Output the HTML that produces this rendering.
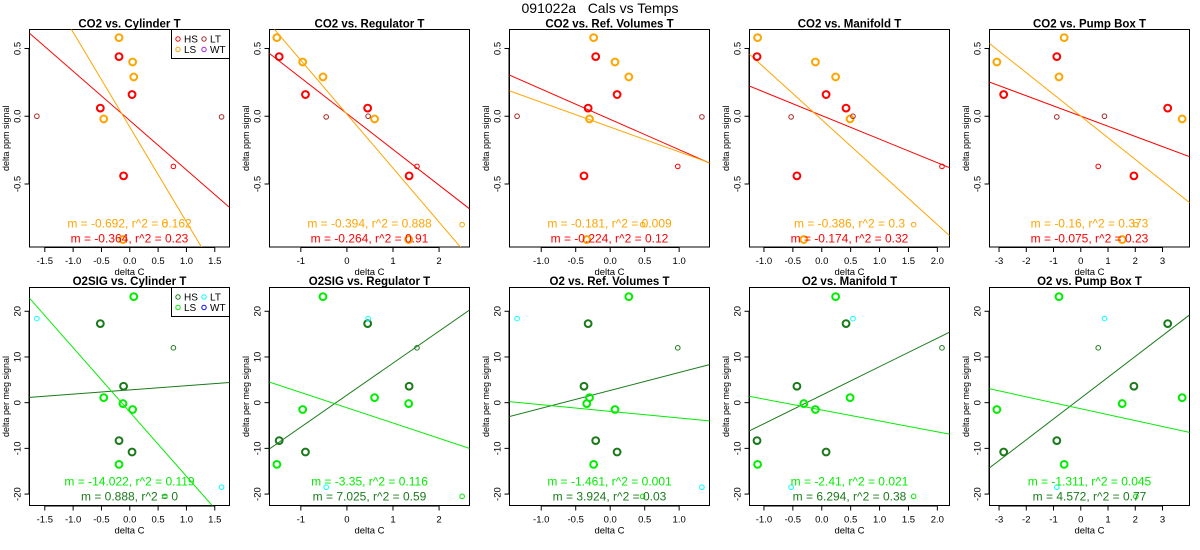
<!DOCTYPE html>
<html><head><meta charset="utf-8"><title>091022a Cals vs Temps</title>
<style>
html,body{margin:0;padding:0;background:#fff;}
svg{display:block;font-family:"Liberation Sans",Arial,sans-serif;}
</style></head>
<body>
<svg id="chart" width="1200" height="550" viewBox="0 0 1200 550" xmlns="http://www.w3.org/2000/svg">
<rect width="1200" height="550" fill="#fff"/>
<text x="600" y="13" text-anchor="middle" font-size="14" fill="#000">091022a&#160;&#160;&#160;Cals vs Temps</text>
</svg>
<script>
// ---- data ----
const topTitles = ["CO2 vs. Cylinder T","CO2 vs. Regulator T","CO2 vs. Ref. Volumes T","CO2 vs. Manifold T","CO2 vs. Pump Box T"];
const botTitles = ["O2SIG vs. Cylinder T","O2SIG vs. Regulator T","O2 vs. Ref. Volumes T","O2 vs. Manifold T","O2 vs. Pump Box T"];
const xRanges = [[-1.77,1.76],[-1.68,2.66],[-1.46,1.44],[-1.25,2.21],[-3.35,3.99]];
const xTicks = [[-1.5,-1,-0.5,0,0.5,1,1.5],[-1,0,1,2],[-1,-0.5,0,0.5,1],[-1,-0.5,0,0.5,1,1.5,2],[-3,-2,-1,0,1,2,3]];
const xTickDecimals = [1,0,1,1,0];
const hsX = [[-0.19,0.04,-0.52,-0.11],[-1.47,-0.90,0.45,1.35],[-0.21,0.10,-0.32,-0.38],[-1.12,0.075,0.42,-0.43],[-0.88,-2.83,3.19,1.95]];
const lsX = [[-0.19,0.05,0.07,-0.46,-0.12],[-1.52,-0.96,-0.52,0.60,1.34],[-0.24,0.07,0.27,-0.30,-0.34],[-1.11,-0.11,0.24,0.49,-0.31],[-0.61,-3.08,-0.80,3.72,1.52]];
const ltX = [[-1.64,1.62],[0.46,-0.45],[-1.35,1.33],[0.54,-0.53],[0.87,-0.88]];
const hsSmallX = [0.77,1.52,0.98,2.08,0.64];
const lsSmallX = [0.62,2.50,0.47,1.59,2.02];
const co2HS = [0.44,0.16,0.06,-0.44];
const co2LS = [0.58,0.40,0.29,-0.02,-0.91];
const co2LT = [0,-0.005];
const co2HSsmall = -0.37;
const co2LSsmall = -0.80;
const o2HS = [-8.3,-10.8,17.3,3.6];
const o2LS = [-13.5,-1.5,23.2,1.1,-0.2];
const o2LT = [18.4,-18.5];
const o2HSsmall = 12;
const o2LSsmall = -20.5;
const co2HSslope = [-0.364,-0.264,-0.224,-0.174,-0.075];
const co2HSint = [-0.032,0.019,-0.023,0.005,0.001];
const co2LSslope = [-0.70,-0.398,-0.183,-0.387,-0.160];
const co2LSint = [-0.08,0.015,-0.080,-0.026,0.001];
const o2HSslope = [0.92,7.0,3.92,6.24,4.56];
const o2HSint = [2.79,1.66,2.68,1.64,1.0];
const o2LSslope = [-14.07,-3.34,-1.45,-2.39,-1.30];
const o2LSint = [-2.04,-1.11,-1.90,-1.61,-1.32];
const co2LSlabels = ["m = -0.692, r^2 = 0.162","m = -0.394, r^2 = 0.888","m = -0.181, r^2 = 0.009","m = -0.386, r^2 = 0.3","m = -0.16, r^2 = 0.373"];
const co2HSlabels = ["m = -0.364, r^2 = 0.23","m = -0.264, r^2 = 0.91","m = -0.224, r^2 = 0.12","m = -0.174, r^2 = 0.32","m = -0.075, r^2 = 0.23"];
const o2LSlabels = ["m = -14.022, r^2 = 0.119","m = -3.35, r^2 = 0.116","m = -1.461, r^2 = 0.001","m = -2.41, r^2 = 0.021","m = -1.311, r^2 = 0.045"];
const o2HSlabels = ["m = 0.888, r^2 = 0","m = 7.025, r^2 = 0.59","m = 3.924, r^2 = 0.03","m = 6.294, r^2 = 0.38","m = 4.572, r^2 = 0.77"];
const co2YTicks = [-0.5,0,0.5];
const o2YTicks = [-20,-10,0,10,20];
const co2YRange = [-0.965,0.64];
const o2YRange = [-22.5,25.2];

const NS = "http://www.w3.org/2000/svg";
const svg = document.getElementById('chart');
function mk(tag, attrs, parent){
  const e = document.createElementNS(NS, tag);
  for (const k in attrs) e.setAttribute(k, attrs[k]);
  (parent||svg).appendChild(e);
  return e;
}

function drawPanel(col, row){
  const ox = col*240;
  const L = ox+29.5, R = ox+229.5;
  const T = row===0 ? 29.5 : 287.5, B = row===0 ? 247 : 505.5;
  const xr = xRanges[col];
  const yr = row===0 ? co2YRange : o2YRange;
  const sx = v => L + (v - xr[0])/(xr[1]-xr[0])*(R-L);
  const sy = v => B - (v - yr[0])/(yr[1]-yr[0])*(B-T);
  const g = mk('g', {});
  
  
  const cid = 'clip'+row+'_'+col;
  const cp = mk('clipPath', {id: cid}, g);
  mk('rect', {x:L, y:T, width:R-L, height:B-T}, cp);

  const t = mk('text', {x:(L+R)/2, y: row===0?27.5:285, 'text-anchor':'middle', 'font-size':'11.5', 'font-weight':'bold', fill:'#000'}, g);
  t.textContent = row===0 ? topTitles[col] : botTitles[col];
  
  

  // x axis
  const xt = xTicks[col];
  mk('line', {x1:sx(xt[0]), x2:sx(xt[xt.length-1]), y1:B+0.5, y2:B+0.5, stroke:'#000', 'stroke-width':1}, g);
  xt.forEach(v=>{
    mk('line', {x1:sx(v), x2:sx(v), y1:B, y2:B+5, stroke:'#000', 'stroke-width':1}, g);
    const lb = mk('text', {x:sx(v), y:B+17, 'text-anchor':'middle', 'font-size':'9.5', fill:'#000'}, g);
    lb.textContent = v.toFixed(xTickDecimals[col]);
    
    
  });
  const xl = mk('text', {x:(L+R)/2, y:B+28, 'text-anchor':'middle', 'font-size':'9.5', fill:'#000'}, g);
  xl.textContent = 'delta C';
  
  

  // y axis
  const yt = row===0 ? co2YTicks : o2YTicks;
  mk('line', {x1:L-0.5, x2:L-0.5, y1:sy(yt[0]), y2:sy(yt[yt.length-1]), stroke:'#000', 'stroke-width':1}, g);
  yt.forEach(v=>{
    mk('line', {x1:L-5, x2:L, y1:sy(v), y2:sy(v), stroke:'#000', 'stroke-width':1}, g);
    const yy = sy(v), xx = L-9;
    const lb = mk('text', {x:xx, y:yy, 'text-anchor':'middle', 'font-size':'9.5', fill:'#000', transform:'rotate(-90 '+xx+' '+yy+')'}, g);
    lb.textContent = row===0 ? v.toFixed(1) : String(v);
    
    
  });
  const ym = (T+B)/2, yx = ox+9;
  const yl = mk('text', {x:yx, y:ym, 'text-anchor':'middle', 'font-size':'9', fill:'#000', transform:'rotate(-90 '+yx+' '+ym+')'}, g);
  yl.textContent = row===0 ? 'delta ppm signal' : 'delta per meg signal';
  
  

  // box
  mk('rect', {x:L, y:T, width:R-L, height:B-T, fill:'none', stroke:'#000', 'stroke-width':1}, g);

  const cHS = row===0 ? '#ff0000' : '#1a7a1a';
  const cLS = row===0 ? '#ffa500' : '#00ee00';
  const cLT = row===0 ? '#a52a2a' : '#00ffff';
  const yHS = row===0 ? co2HS : o2HS;
  const yLS = row===0 ? co2LS : o2LS;
  const yLT = row===0 ? co2LT : o2LT;
  const pg = mk('g', {'clip-path':'url(#'+cid+')'}, g);

  // regression lines
  const fits = row===0 ? [[co2HSslope,co2HSint,cHS,'hs'],[co2LSslope,co2LSint,cLS,'ls']] : [[o2HSslope,o2HSint,cHS,'hs'],[o2LSslope,o2LSint,cLS,'ls']];
  fits.forEach(f=>{
    const m = f[0][col], b = f[1][col];
    const ln = mk('line', {x1:sx(xr[0]), y1:sy(m*xr[0]+b), x2:sx(xr[1]), y2:sy(m*xr[1]+b), stroke:f[2], 'stroke-width':1}, pg);
    
    
  });

  // points
  hsX[col].forEach((x,i)=>{
    const c = mk('circle', {cx:sx(x), cy:sy(yHS[i]), r:3.4, fill:'none', stroke:cHS, 'stroke-width':2}, pg);
    
    
  });
  lsX[col].forEach((x,i)=>{
    const c = mk('circle', {cx:sx(x), cy:sy(yLS[i]), r:3.4, fill:'none', stroke:cLS, 'stroke-width':2}, pg);
    
    
  });
  ltX[col].forEach((x,i)=>{
    const c = mk('circle', {cx:sx(x), cy:sy(yLT[i]), r:2.3, fill:'none', stroke:cLT, 'stroke-width':1}, pg);
    
    
  });
  const hsS = mk('circle', {cx:sx(hsSmallX[col]), cy:sy(row===0?co2HSsmall:o2HSsmall), r:2.3, fill:'none', stroke:cHS, 'stroke-width':1}, pg);
  
  
  const lsS = mk('circle', {cx:sx(lsSmallX[col]), cy:sy(row===0?co2LSsmall:o2LSsmall), r:2.3, fill:'none', stroke:cLS, 'stroke-width':1}, pg);
  
  

  // stats text
  const t1 = mk('text', {x:(L+R)/2, y: row===0?227.5:485.5, 'text-anchor':'middle', 'font-size':'12', fill:cLS}, g);
  t1.textContent = row===0 ? co2LSlabels[col] : o2LSlabels[col];
  
  
  const t2 = mk('text', {x:(L+R)/2, y: row===0?242.5:500.5, 'text-anchor':'middle', 'font-size':'12', fill:cHS}, g);
  t2.textContent = row===0 ? co2HSlabels[col] : o2HSlabels[col];
  
  

  // legend in first column
  if (col===0){
    const lg = mk('g', {}, g);
    
    
    mk('rect', {x:171.5, y:T, width:58, height:29, fill:'#fff', stroke:'#000', 'stroke-width':1}, lg);
    const ent = [['HS',cHS,178,T+9.5],['LS',cLS,178,T+20],['LT',cLT,204,T+9.5],['WT', row===0?'#a020f0':'#0000ff',204,T+20]];
    ent.forEach(e=>{
      const c = mk('circle', {cx:e[2], cy:e[3], r:2.2, fill:'none', stroke:e[1], 'stroke-width':1}, lg);
      
      
      const tx = mk('text', {x:e[2]+6, y:e[3]+3.5, 'font-size':'10', fill:'#000'}, lg);
      tx.textContent = e[0];
      
      
    });
  }
}
for (let r=0;r<2;r++) for (let c=0;c<5;c++) drawPanel(c,r);
</script>
</body></html>
